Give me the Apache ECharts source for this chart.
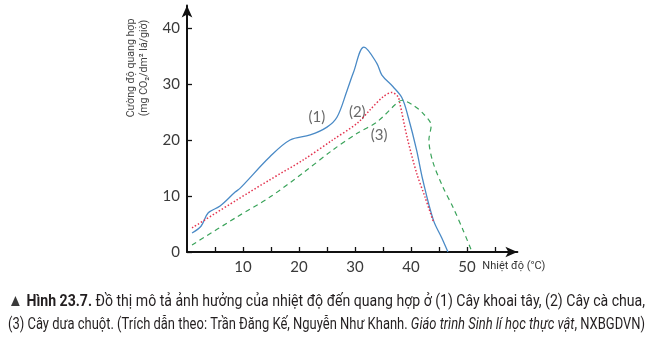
<!DOCTYPE html>
<html><head><meta charset="utf-8">
<script src="https://cdn.jsdelivr.net/npm/echarts@6/dist/echarts.min.js"></script>
<style>html,body{margin:0;padding:0;background:#fff}#c{width:651px;height:360px}</style>
</head><body><div id="c"></div>
<script>
// Data: [temperature °C, photosynthesis rate]
const potato = [[0.9,3.4],[2.5,4.6],[3.8,7.0],[5.9,8.2],[8.6,10.7],[9.5,11.4],[14.8,17.0],[18.4,20.0],[22,20.9],[25,22.3],[26.8,24.1],[28.6,28.9],[29.7,32.0],[31.6,36.6],[33.9,33.7],[34.8,31.6],[36.8,29.5],[38.4,27.5],[39.5,24.1],[41,18.2],[42.1,12.9],[44,5.7],[45.5,2.5],[46.6,0]];
const tomato = [[0.9,4.3],[8.9,9.3],[14.8,12.9],[20.7,16.4],[26,20.0],[30.4,23.0],[32.7,25.4],[35,27.7],[36.6,28.5],[37.7,27.7],[38,26.6],[39.3,20.5],[41,14.1],[42.5,9.8],[44,5.4]];
const cucumber = [[0.9,1.25],[8.9,6.25],[14.8,9.8],[20.7,14.1],[26,18.2],[30.4,21.2],[33.9,23.2],[37.5,26.6],[38.4,27.1],[40.4,26.2],[42.1,24.8],[43.6,22.6],[43.2,20.0],[43.9,16.1],[45.7,11.6],[47.5,8.0],[49.3,3.9],[50.7,0.5]];
const curveLabels = [["(1)",23.2,24.1],["(2)",30.4,25.0],["(3)",34.3,20.9]];
const xTicks = [5,10,15,20,25,30,35,40,45,50,55];
const xLabels = [10,20,30,40,50];
const yTicks = [0,10,20,30,40];
const xName = "Nhiệt độ (°C)";
const yName = "Cường độ quang hợp\n(mg CO₂/dm² lá/giờ)";
const caption1 = [["▲ ", "tri"], ["Hình 23.7.", "b"], [" Đồ thị mô tả ảnh hưởng của nhiệt độ đến quang hợp ở (1) Cây khoai tây, (2) Cây cà chua,", "n"]];
const caption2 = [["(3) Cây dưa chuột. (Trích dẫn theo: Trần Đăng Kế, Nguyễn Như Khanh. ", "n"], ["Giáo trình Sinh lí học thực vật", "i"], [", NXBGDVN)", "n"]];

const FF = 'Roboto, sans-serif';
const fonts = {tri:'17px '+FF, b:'bold 16px '+FF, n:'16px '+FF, i:'italic 16px '+FF};
const ctx = document.createElement('canvas').getContext('2d');
function measure(parts){ let w=0; parts.forEach(p=>{ctx.font=fonts[p[1]]; w+=ctx.measureText(p[0]).width;}); return w; }
function captionText(parts, x, y, targetW){
  const s = targetW / measure(parts);
  return {type:'text', x:x, y:y, scaleX:s, style:{
    text: parts.map(p=>'{'+p[1]+'|'+p[0].replace(/[{}|]/g,'')+'}').join(''),
    verticalAlign:'middle',
    rich:{tri:{font:fonts.tri, fill:'#3a3a3a'}, b:{font:fonts.b, fill:'#231f20'}, n:{font:fonts.n, fill:'#231f20'}, i:{font:fonts.i, fill:'#231f20'}}
  }};
}

const chart = echarts.init(document.getElementById('c'), null, {renderer:'canvas'});
chart.setOption({
  animation:false,
  grid:{left:187, right:133.6, top:5.6, bottom:108, containLabel:false},
  xAxis:{type:'value', min:0, max:59,
    axisLine:{onZero:false, lineStyle:{color:'#111', width:2}, symbol:['none','arrow'], symbolSize:[8,12]},
    axisTick:{show:true, inside:true, length:5, lineStyle:{color:'#111', width:1.3}, customValues:xTicks},
    axisLabel:{customValues:xLabels, color:'#3a3a3a', fontSize:15, fontFamily:'Lato, sans-serif', margin:8},
    splitLine:{show:false},
    name:xName, nameLocation:'end', nameGap:0,
    nameTextStyle:{fontSize:11, color:'#333', fontFamily:FF, align:'right', verticalAlign:'top', padding:[9,-28,0,0]}
  },
  yAxis:{type:'value', min:0, max:44,
    axisLine:{show:true, onZero:false, lineStyle:{color:'#111', width:2}, symbol:['none','arrow'], symbolSize:[8,12]},
    axisTick:{show:true, inside:true, length:5, lineStyle:{color:'#111', width:1.3}, customValues:yTicks},
    axisLabel:{customValues:yTicks, color:'#3a3a3a', fontSize:15, fontFamily:'Lato, sans-serif', margin:7},
    splitLine:{show:false}
  },
  series:[
    {type:'line', data:potato, smooth:0.35, symbol:'none', lineStyle:{color:'#4a8ac6', width:1.3}},
    {type:'line', data:tomato, smooth:0.3, symbol:'none', lineStyle:{color:'#e3344f', width:1.5, type:[1.5,2]}},
    {type:'line', data:cucumber, smooth:0.3, symbol:'none', lineStyle:{color:'#3aa35a', width:1.2, type:[5,4]}},
    {type:'scatter', silent:true, symbolSize:1, itemStyle:{color:'rgba(0,0,0,0)'},
     data:curveLabels.map(t=>({value:[t[1],t[2]], name:t[0]})),
     label:{show:true, position:'inside', formatter:'{b}', color:'#444', fontSize:15, fontFamily:'Lato, sans-serif'}}
  ],
  graphic:[
    {type:'text', x:138, y:68, rotation:Math.PI/2, scaleX:0.92, style:{text:yName, fill:'#444', font:'11.5px '+FF, align:'center', verticalAlign:'middle', lineHeight:13}},
    captionText(caption1, 8, 302, 637),
    captionText(caption2, 8, 325, 637)
  ]
});
</script></body></html>
